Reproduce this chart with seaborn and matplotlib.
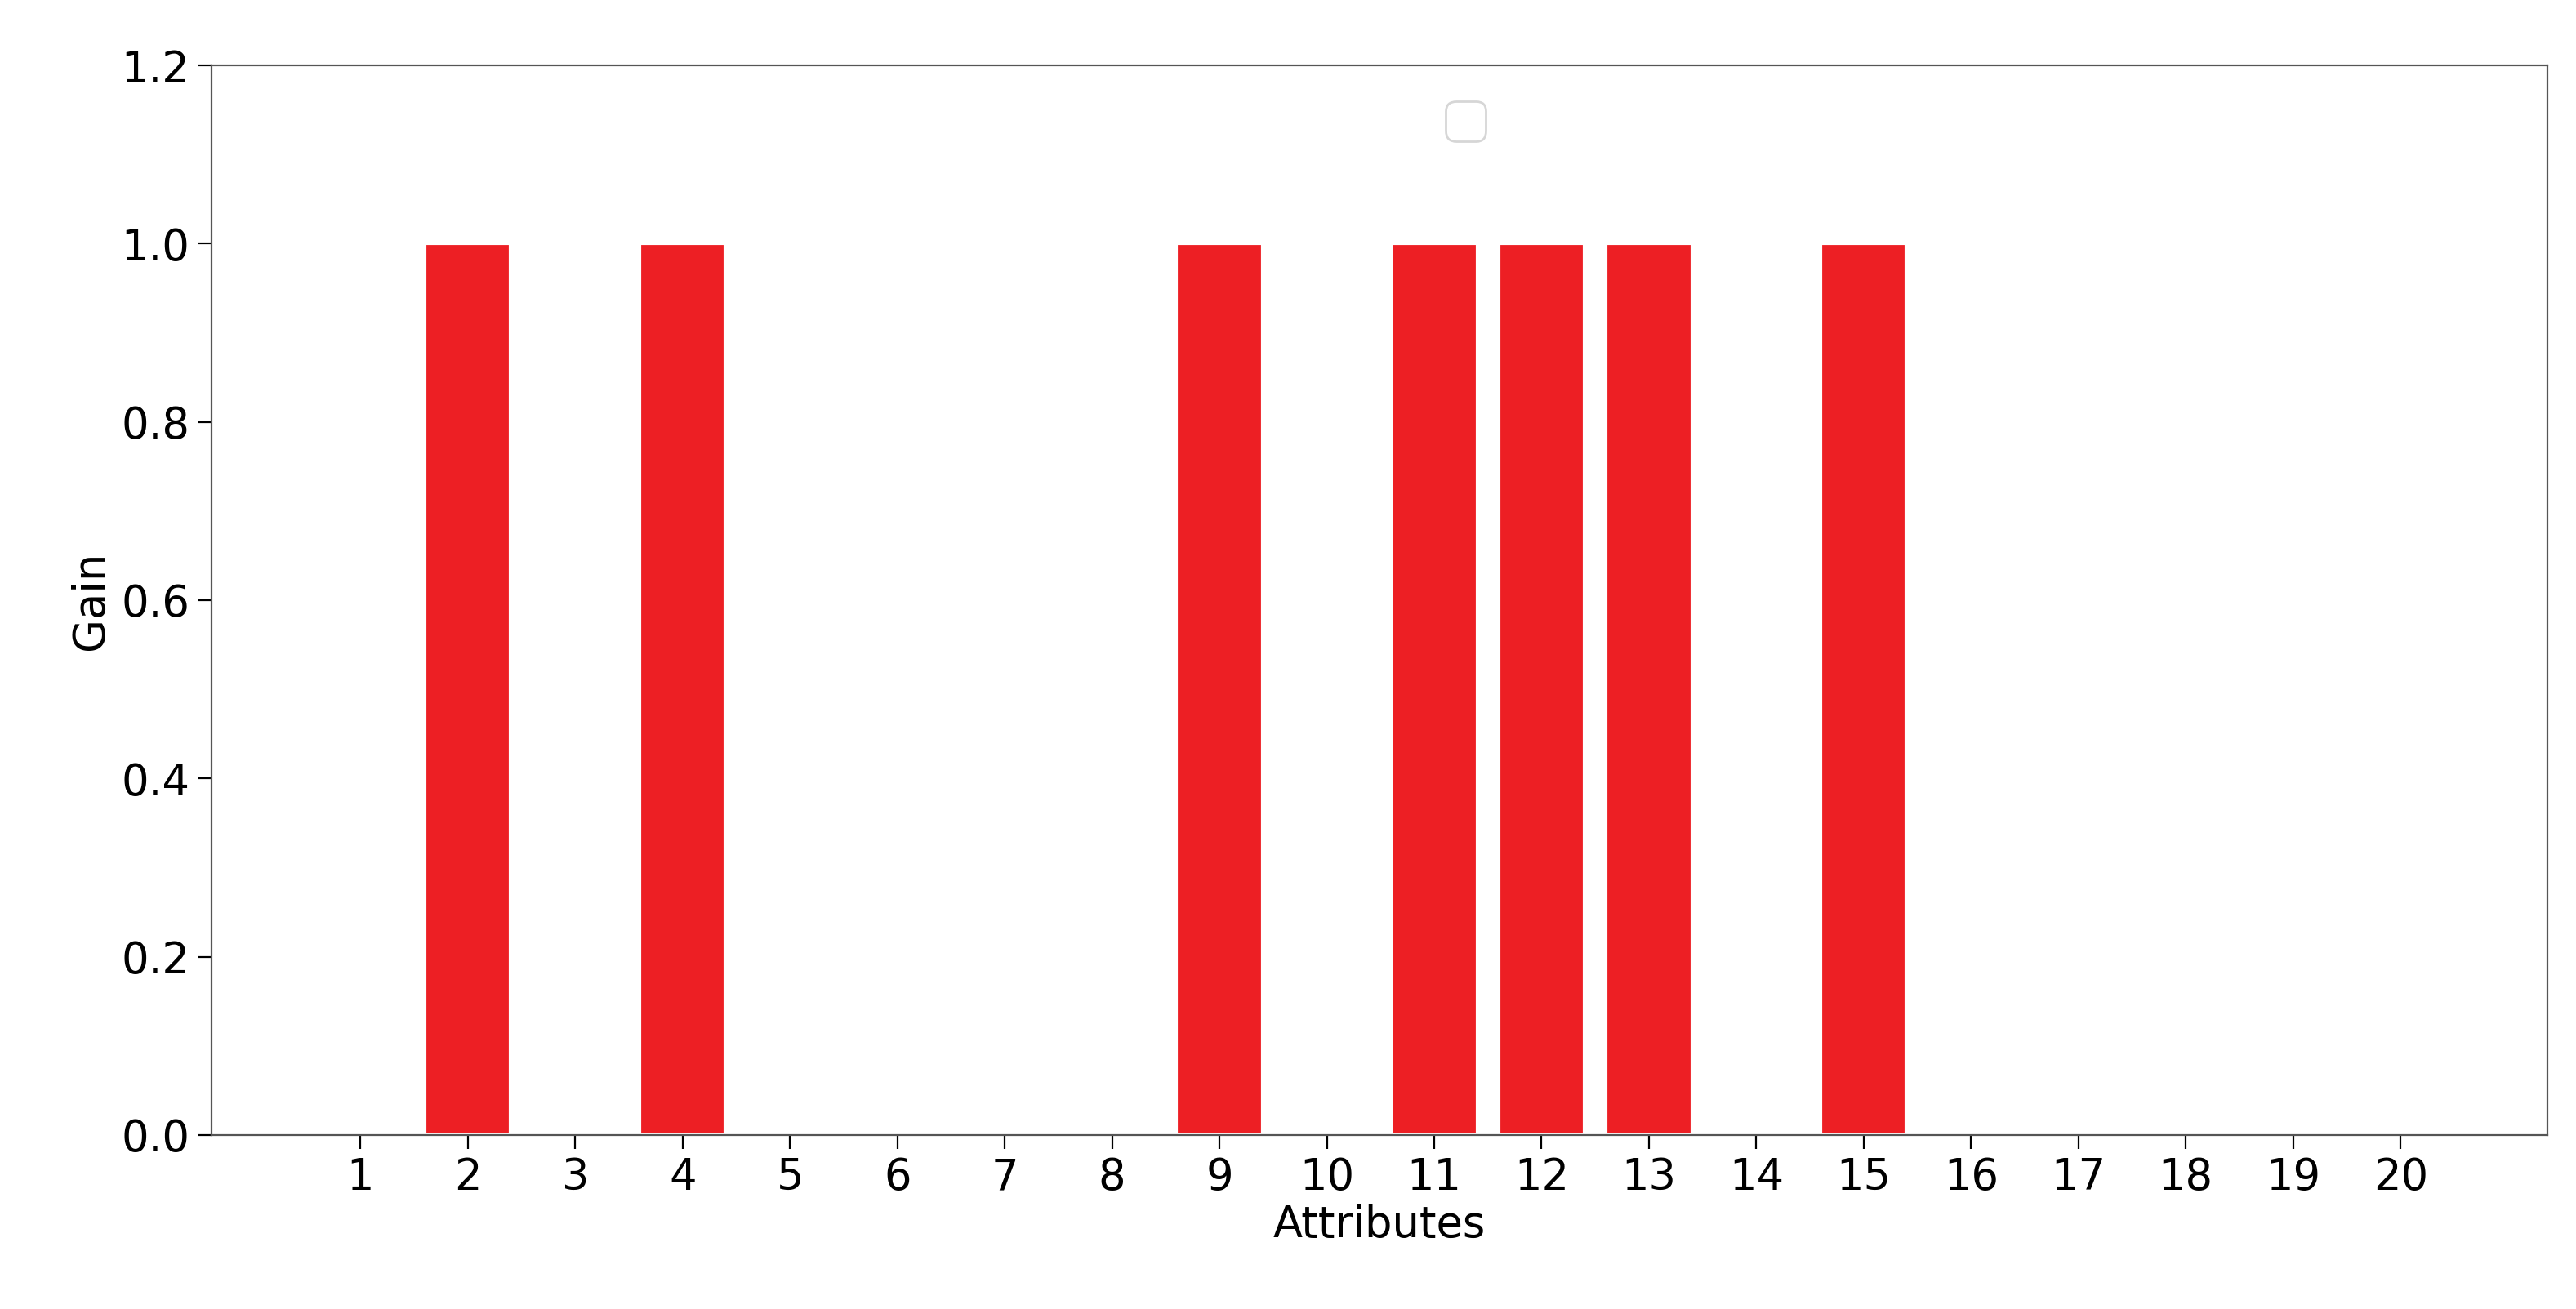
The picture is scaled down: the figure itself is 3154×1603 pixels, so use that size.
import matplotlib
matplotlib.use("Agg")
import matplotlib.pyplot as plt
import seaborn as sns
import pandas as pd

attributes = list(range(1, 21))
gain = [0, 1, 0, 1, 0, 0, 0, 0, 1, 0, 1, 1, 1, 0, 1, 0, 0, 0, 0, 0]

sns.set_style("ticks")
plt.rcParams['font.family'] = ['DejaVu Sans']
plt.rcParams['text.color'] = 'black'
df = pd.DataFrame({"Attributes": attributes, "Gain": gain})

fig = plt.figure(figsize=(15.77, 8.015), dpi=200)
ax = fig.add_axes([0.082, 0.133, 0.907, 0.817])
sns.barplot(data=df, x="Attributes", y="Gain", native_scale=True, color="#ED1F24",
            saturation=1, width=0.8, edgecolor="white", linewidth=1.5, ax=ax)
ax.set_xlim(-0.39, 21.37)
ax.set_ylim(0, 1.2)
ax.set_xticks(attributes)
ax.set_yticks([0, 0.2, 0.4, 0.6, 0.8, 1.0, 1.2])
ax.set_yticklabels(["0.0", "0.2", "0.4", "0.6", "0.8", "1.0", "1.2"])
ax.tick_params(labelsize=19, length=6, colors="black")
ax.set_xlabel("Attributes", fontsize=19, labelpad=2, color="black")
ax.set_ylabel("Gain", fontsize=19, color="black")
for s in ax.spines.values():
    s.set_color("#555555")
ax.legend(loc="upper center", bbox_to_anchor=(0.537, 0.99), fontsize=22)
fig.savefig("out.png", dpi=200)
